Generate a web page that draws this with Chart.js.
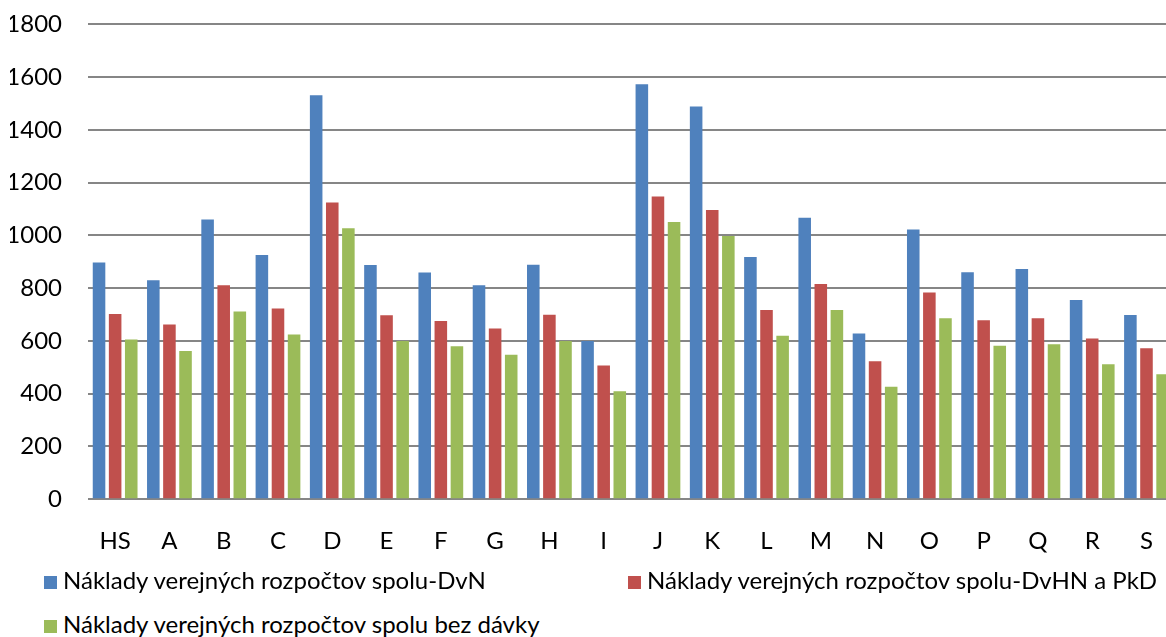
<!DOCTYPE html>
<html>
<head>
<meta charset="utf-8">
<script src="https://cdn.jsdelivr.net/npm/chart.js@4"></script>
<style>
  html, body { margin: 0; padding: 0; background: #fff; overflow: hidden; }
  #wrap { position: relative; width: 1166px; height: 637px; overflow: hidden; }
  #box { position: absolute; left: 0; top: -16px; width: 1181px; height: 604px; }
  .leg { position: absolute; font-family: Lato, "Open Sans", sans-serif; font-size: 24px; color: #000; white-space: nowrap; line-height: 1; }
  .leg i { display: inline-block; width: 13px; height: 13px; margin-right: 6px; vertical-align: 0px; }
</style>
</head>
<body>
<div id="wrap">
  <div id="box"><canvas id="c"></canvas></div>
  <div id="legend"></div>
</div>
<script>
'use strict';

// kategórie a hodnoty (odčítané z grafu)
const categories = ['HS', 'A', 'B', 'C', 'D', 'E', 'F', 'G', 'H', 'I', 'J', 'K', 'L', 'M', 'N', 'O', 'P', 'Q', 'R', 'S'];
const seriesNames = [
  'Náklady verejných rozpočtov spolu-DvN',
  'Náklady verejných rozpočtov spolu-DvHN a PkD',
  'Náklady verejných rozpočtov spolu bez dávky',
];
const dvn      = [897, 830, 1060, 926, 1531, 888, 859, 811, 889, 600, 1573, 1489, 918, 1067, 628, 1022, 860, 873, 755, 698];
const dvhnPkd  = [702, 662, 811, 723, 1125, 697, 676, 647, 699, 507, 1148, 1096, 717, 816, 523, 784, 678, 686, 609, 572];
const bezDavky = [605, 562, 712, 624, 1027, 600, 580, 548, 600, 409, 1051, 998, 620, 717, 426, 686, 582, 587, 512, 474];
const yTicks   = [0, 200, 400, 600, 800, 1000, 1200, 1400, 1600, 1800];

const colors = ['#4F81BD', '#C0504D', '#9BBB59'];
const FONT = 'Lato, "Open Sans", sans-serif';

const series = [dvn, dvhnPkd, bezDavky];

const chart = new Chart(document.getElementById('c'), {
  type: 'bar',
  data: {
    labels: categories,
    datasets: series.map((d, i) => ({
      label: seriesNames[i],
      data: d,
      backgroundColor: colors[i],
      borderWidth: 0,
      categoryPercentage: 0.89,
      barPercentage: 0.78,
    })),
  },
  options: {
    responsive: true,
    maintainAspectRatio: false,
    animation: false,
    layout: { padding: { left: 10, right: 0, top: 0, bottom: 4 } },
    plugins: {
      legend: { display: false },
      tooltip: { enabled: false },
    },
    scales: {
      x: {
        grid: { display: false, drawTicks: false },
        border: { display: false },
        ticks: { color: '#000', font: { family: FONT, size: 24 }, padding: 28, maxRotation: 0, autoSkip: false },
      },
      y: {
        min: 0,
        max: 1800,
        afterBuildTicks: scale => { scale.ticks = yTicks.map(v => ({ value: v })); },
        afterFit: scale => { scale.width = 78; },
        grid: { color: '#868686', lineWidth: 2, drawTicks: false },
        border: { display: false },
        ticks: { color: '#000', font: { family: FONT, size: 24 }, padding: 26, callback: v => String(v) },
      },
    },
  },
});

// legenda ako v Exceli: dva stĺpce, tretia položka v druhom riadku
const legendPos = [[44, 568], [628, 568], [44, 612]];
const legendEl = document.getElementById('legend');
chart.data.datasets.forEach((ds, i) => {
  const el = document.createElement('div');
  el.className = 'leg';
  el.style.left = legendPos[i][0] + 'px';
  el.style.top  = legendPos[i][1] + 'px';
  el.innerHTML = `<i style="background:${ds.backgroundColor}"></i>${ds.label}`;
  legendEl.appendChild(el);
});
</script>
</body>
</html>
